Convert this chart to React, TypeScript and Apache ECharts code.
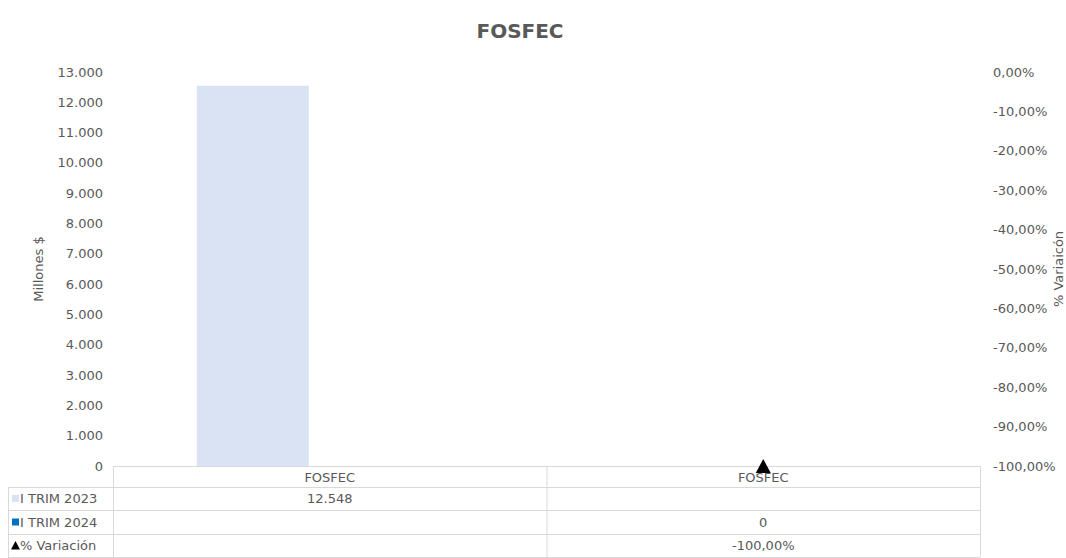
import React, { useEffect, useRef } from "react";
import * as echarts from "echarts";

const titleText = "FOSFEC";
const categories = ["FOSFEC", "FOSFEC"];
const seriesNames = ["I TRIM 2023", "I TRIM 2024", "% Variación"];
const trim2023: (number | null)[] = [12548, null];
const trim2024: (number | null)[] = [null, 0];
const variacion: (number | null)[] = [null, -100];
const leftAxisName = "Millones $";
const rightAxisName = "% Variaicón";

const W = 1066;
const H = 558;
const GL = 113;
const GR = 980;
const GT = 72;
const GB = 466;
const KEY_LEFT = 8;
const ROWS = [466, 487, 510, 534, 557];
const TEXT = "#595959";
const LINE = "#d9d9d9";
const COLORS = ["#dae3f3", "#0070c0", "#000000"];
const FONT = "DejaVu Sans, Verdana, sans-serif";
const FS = 13;

const fmtNum = (v: number) =>
  Math.round(v).toString().replace(/\B(?=(\d{3})+(?!\d))/g, ".");
const fmtPct = (v: number) => v.toFixed(2).replace(".", ",") + "%";

export default function App() {
  const ref = useRef<HTMLDivElement>(null);
  useEffect(() => {
    if (!ref.current) return;
    const chart = echarts.init(ref.current, undefined, { renderer: "svg" });
    const seriesData = [trim2023, trim2024, variacion];
    const formatters = [fmtNum, fmtNum, fmtPct];
    const colW = (GR - GL) / categories.length;
    const graphic: any[] = [];
    const hline = (x1: number, x2: number, y: number) =>
      graphic.push({
        type: "line",
        silent: true,
        shape: { x1, y1: y + 0.5, x2, y2: y + 0.5 },
        style: { stroke: LINE, lineWidth: 1 },
      });
    const vline = (x: number, y1: number, y2: number) =>
      graphic.push({
        type: "line",
        silent: true,
        shape: { x1: x + 0.5, y1, x2: x + 0.5, y2 },
        style: { stroke: LINE, lineWidth: 1 },
      });
    hline(GL, GR, ROWS[0]);
    for (let i = 1; i < ROWS.length; i++) hline(KEY_LEFT, GR, ROWS[i]);
    vline(KEY_LEFT, ROWS[1], ROWS[ROWS.length - 1]);
    for (let c = 0; c <= categories.length; c++)
      vline(GL + c * colW, ROWS[0], ROWS[ROWS.length - 1]);
    seriesNames.forEach((name, r) => {
      const yc = (ROWS[r + 1] + ROWS[r + 2]) / 2;
      if (r < 2) {
        graphic.push({
          type: "rect",
          silent: true,
          shape: { x: 12, y: yc - 3.5, width: 7, height: 7 },
          style: { fill: COLORS[r] },
        });
      } else {
        graphic.push({
          type: "polygon",
          silent: true,
          shape: { points: [[15.5, yc - 4.5], [11, yc + 4], [20, yc + 4]] },
          style: { fill: COLORS[r] },
        });
      }
      graphic.push({
        type: "text",
        silent: true,
        x: 20,
        y: yc,
        style: {
          text: name,
          fill: TEXT,
          font: `${FS}px ${FONT}`,
          verticalAlign: "middle",
        },
      });
      seriesData[r].forEach((v, c) => {
        if (v === null || v === undefined) return;
        graphic.push({
          type: "text",
          silent: true,
          x: GL + (c + 0.5) * colW,
          y: yc,
          style: {
            text: formatters[r](v),
            fill: TEXT,
            font: `${FS}px ${FONT}`,
            align: "center",
            verticalAlign: "middle",
          },
        });
      });
    });

    chart.setOption({
      animation: false,
      backgroundColor: "#ffffff",
      textStyle: { fontFamily: FONT },
      title: {
        text: titleText,
        left: 515,
        top: 16,
        textAlign: "center",
        textStyle: { color: TEXT, fontSize: 20, fontWeight: "bold", fontFamily: FONT },
      },
      grid: {
        left: GL,
        right: W - GR,
        top: GT,
        bottom: H - GB,
        containLabel: false,
        outerBoundsMode: "none",
      },
      xAxis: {
        type: "category",
        data: categories,
        axisLine: { show: false },
        axisTick: { show: false },
        axisLabel: { color: TEXT, fontSize: FS, margin: 5, fontFamily: FONT },
        splitLine: { show: false },
      },
      yAxis: [
        {
          type: "value",
          min: 0,
          max: 13000,
          interval: 1000,
          name: leftAxisName,
          nameLocation: "middle",
          nameRotate: 90,
          nameGap: 68,
          nameTextStyle: { color: TEXT, fontSize: FS, fontFamily: FONT },
          axisLine: { show: false },
          axisTick: { show: false },
          splitLine: { show: false },
          axisLabel: { color: TEXT, fontSize: FS, margin: 10, fontFamily: FONT, formatter: (v: number) => fmtNum(v) },
        },
        {
          type: "value",
          min: -100,
          max: 0,
          interval: 10,
          position: "right",
          name: rightAxisName,
          nameLocation: "middle",
          nameRotate: 90,
          nameGap: 72,
          nameMoveOverlap: false,
          nameTextStyle: { color: TEXT, fontSize: FS, fontFamily: FONT },
          axisLine: { show: false },
          axisTick: { show: false },
          splitLine: { show: false },
          axisLabel: { color: TEXT, fontSize: FS, margin: 13, fontFamily: FONT, formatter: (v: number) => fmtPct(v) },
        },
      ],
      series: [
        {
          name: seriesNames[0],
          type: "bar",
          yAxisIndex: 0,
          data: trim2023,
          barWidth: 112,
          barGap: "37.5%",
          itemStyle: { color: COLORS[0] },
        },
        {
          name: seriesNames[1],
          type: "bar",
          yAxisIndex: 0,
          data: trim2024,
          barWidth: 112,
          itemStyle: { color: COLORS[1] },
        },
        {
          name: seriesNames[2],
          type: "scatter",
          yAxisIndex: 1,
          data: variacion,
          symbol: "triangle",
          symbolSize: [15, 14],
          clip: false,
          z: 10,
          itemStyle: { color: COLORS[2], opacity: 1 },
        },
      ],
      graphic,
    });
    return () => chart.dispose();
  }, []);
  return (
    <div
      ref={ref}
      style={{ position: "fixed", left: 0, top: 0, width: W, height: H }}
    />
  );
}
